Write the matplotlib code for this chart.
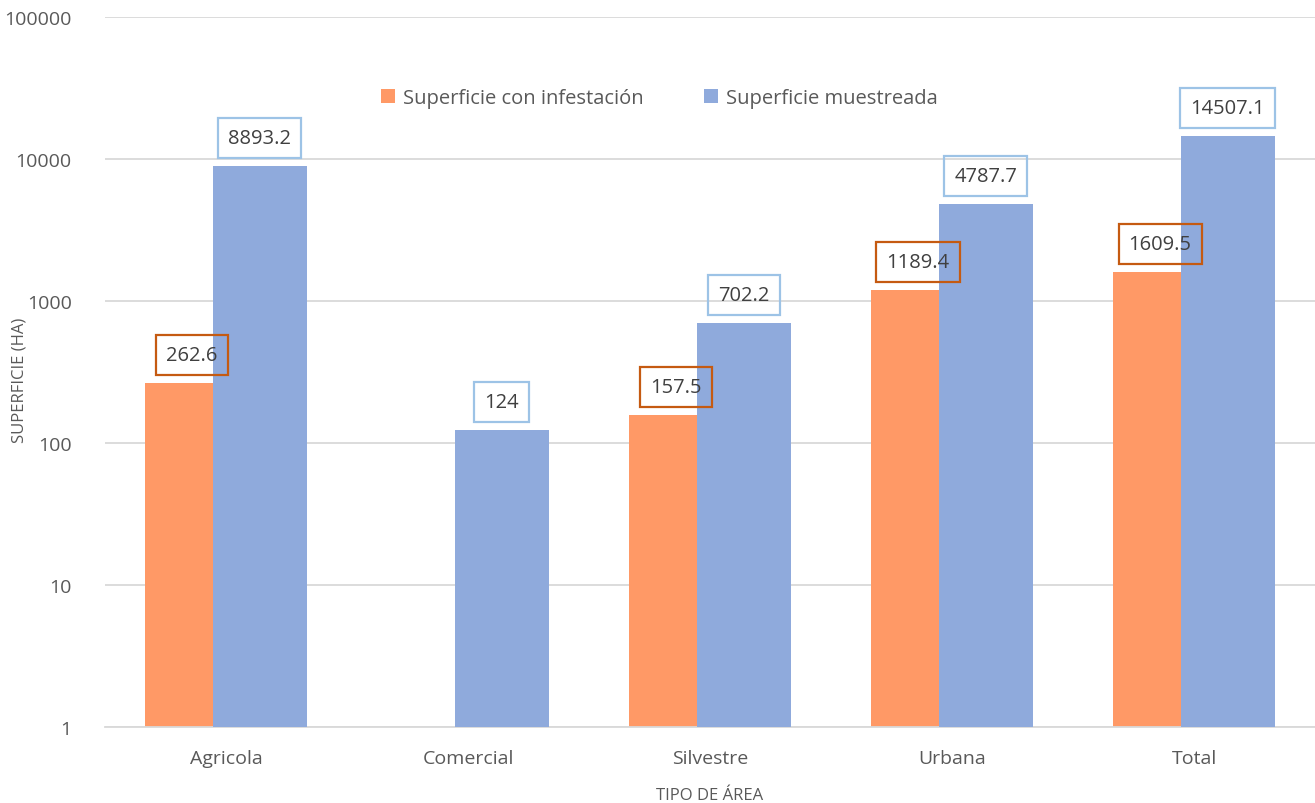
import numpy as np
import matplotlib.pyplot as plt

categories = ['Agricola', 'Comercial', 'Silvestre', 'Urbana', 'Total']
infestada = [262.6, np.nan, 157.5, 1189.4, 1609.5]
muestreada = [8893.2, 124, 702.2, 4787.7, 14507.1]

orange = '#FF9966'
blue = '#8FAADC'
text_col = '#595959'

plt.rcParams['font.family'] = ['Open Sans', 'DejaVu Sans']

fig = plt.figure(figsize=(13.15, 8.04), dpi=100)
ax = fig.add_axes([105 / 1315, 76 / 804, 1 - 105 / 1315, 710 / 804])

x = np.arange(len(categories))
w = 0.388
off = 0.14
ax.bar(x - off, infestada, w, color=orange, label='Superficie con infestación', zorder=2)
ax.bar(x + off, muestreada, w, color=blue, label='Superficie muestreada', zorder=3)

ax.set_yscale('log')
ax.set_ylim(1, 100000)
ax.set_xlim(-0.5, len(categories) - 0.5)
ax.set_yticks([1, 10, 100, 1000, 10000, 100000])
ax.set_yticklabels(['1', '10', '100', '1000', '10000', '100000'])
ax.minorticks_off()
ax.set_xticks(x)
ax.set_xticklabels(categories)
ax.tick_params(axis='both', length=0, labelsize=14, colors=text_col)
ax.tick_params(axis='x', pad=16)
ax.tick_params(axis='y', pad=24)
ax.grid(axis='y', color='#D9D9D9', linewidth=1.3, zorder=0)
ax.set_axisbelow(True)
for s in ['top', 'right', 'left']:
    ax.spines[s].set_visible(False)
ax.spines['bottom'].set_color('#D9D9D9')
ax.spines['bottom'].set_linewidth(1.3)

ax.set_xlabel('TIPO DE ÁREA', fontsize=12, color=text_col, labelpad=14)
fig.text(20 / 1315, 1 - 380 / 804, 'SUPERFICIE (HA)', rotation=90, fontsize=12,
         color=text_col, ha='center', va='center')

def label(xpos, val, edge):
    ax.annotate(f'{val:g}', (xpos, val), xytext=(0, 13), textcoords='offset points',
                ha='center', va='bottom', fontsize=14.5, color='#404040', zorder=5,
                bbox=dict(boxstyle='square,pad=0.5', fc='none', ec=edge, lw=1.6))

for i in range(len(categories)):
    if not np.isnan(infestada[i]):
        label(x[i] - off, infestada[i], '#C55A11')
    label(x[i] + off, muestreada[i], '#9DC3E6')

ax.legend(loc='upper center', bbox_to_anchor=(0.458, 0.925), ncol=2, frameon=False,
          fontsize=14.5, labelcolor=text_col, handlelength=0.7, handleheight=0.7,
          handletextpad=0.4, columnspacing=3)

fig.savefig('out.png', dpi=100)
